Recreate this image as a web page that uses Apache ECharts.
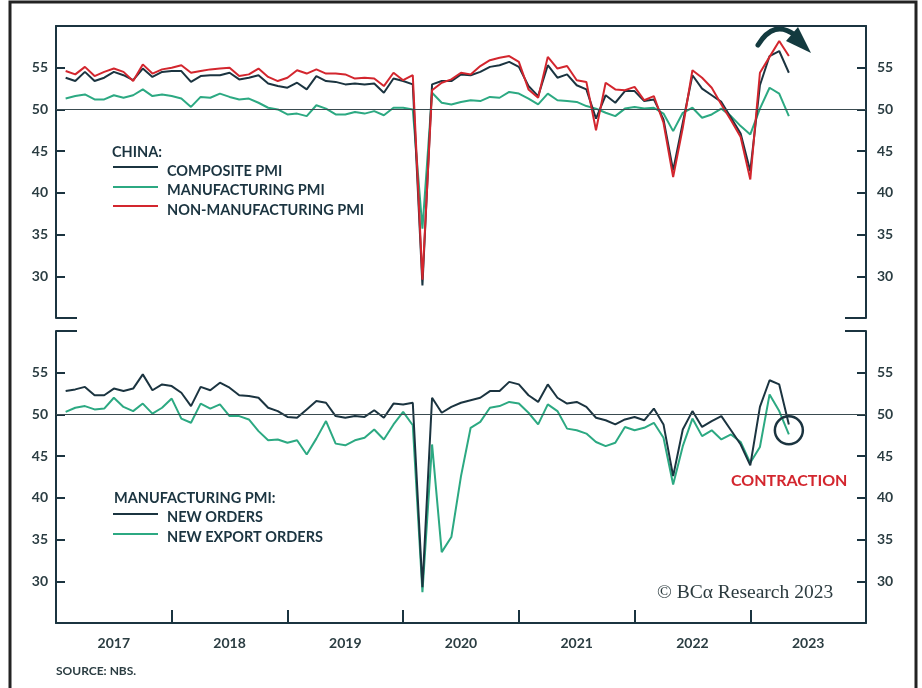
<!DOCTYPE html>
<html>
<head>
<meta charset="utf-8">
<script src="https://cdn.jsdelivr.net/npm/echarts@6/dist/echarts.min.js"></script>
<style>
  html, body { margin: 0; padding: 0; background: #ffffff; }
  #chart { width: 922px; height: 688px; }
</style>
</head>
<body>
<div id="chart"></div>
<script>
// Monthly series, January 2017 through April 2023 (NBS).
const yearLabels = ['2017', '2018', '2019', '2020', '2021', '2022', '2023'];

const compositePmi = [
  53.8, 53.4, 54.5, 53.4, 53.8, 54.5, 54.1, 53.5, 54.9, 53.9, 54.5, 54.6,
  54.6, 53.3, 54.0, 54.1, 54.1, 54.4, 53.6, 53.8, 54.1, 53.1, 52.8, 52.6,
  53.2, 52.4, 54.0, 53.4, 53.3, 53.0, 53.1, 53.0, 53.1, 52.0, 53.7, 53.4,
  53.0, 28.9, 53.0, 53.4, 53.4, 54.2, 54.1, 54.5, 55.1, 55.3, 55.7, 55.1,
  52.8, 51.6, 55.3, 53.8, 54.2, 52.9, 52.4, 48.9, 51.7, 50.8, 52.2, 52.2,
  51.0, 51.2, 48.8, 42.7, 48.4, 54.1, 52.5, 51.7, 50.9, 49.0, 47.1, 42.6,
  52.9, 56.4, 57.0, 54.4
];

const manufacturingPmi = [
  51.3, 51.6, 51.8, 51.2, 51.2, 51.7, 51.4, 51.7, 52.4, 51.6, 51.8, 51.6,
  51.3, 50.3, 51.5, 51.4, 51.9, 51.5, 51.2, 51.3, 50.8, 50.2, 50.0, 49.4,
  49.5, 49.2, 50.5, 50.1, 49.4, 49.4, 49.7, 49.5, 49.8, 49.3, 50.2, 50.2,
  50.0, 35.7, 52.0, 50.8, 50.6, 50.9, 51.1, 51.0, 51.5, 51.4, 52.1, 51.9,
  51.3, 50.6, 51.9, 51.1, 51.0, 50.9, 50.4, 50.1, 49.6, 49.2, 50.1, 50.3,
  50.1, 50.2, 49.5, 47.4, 49.6, 50.2, 49.0, 49.4, 50.1, 49.2, 48.0, 47.0,
  50.1, 52.6, 51.9, 49.2
];

const nonManufacturingPmi = [
  54.6, 54.2, 55.1, 54.0, 54.5, 54.9, 54.5, 53.4, 55.4, 54.3, 54.8, 55.0,
  55.3, 54.4, 54.6, 54.8, 54.9, 55.0, 54.0, 54.2, 54.9, 53.9, 53.4, 53.8,
  54.7, 54.3, 54.8, 54.3, 54.3, 54.2, 53.7, 53.8, 53.7, 52.8, 54.4, 53.5,
  54.1, 29.6, 52.3, 53.2, 53.6, 54.4, 54.2, 55.2, 55.9, 56.2, 56.4, 55.7,
  52.4, 51.4, 56.3, 54.9, 55.2, 53.5, 53.3, 47.5, 53.2, 52.4, 52.3, 52.7,
  51.1, 51.6, 48.4, 41.9, 47.8, 54.7, 53.8, 52.6, 50.6, 48.7, 46.7, 41.6,
  54.4, 56.3, 58.2, 56.4
];

const newOrders = [
  52.8, 53.0, 53.3, 52.3, 52.3, 53.1, 52.8, 53.1, 54.8, 52.9, 53.6, 53.4,
  52.6, 51.0, 53.3, 52.9, 53.8, 53.2, 52.3, 52.2, 52.0, 50.8, 50.4, 49.7,
  49.6, 50.6, 51.6, 51.4, 49.8, 49.6, 49.8, 49.7, 50.5, 49.6, 51.3, 51.2,
  51.4, 29.3, 52.0, 50.2, 50.9, 51.4, 51.7, 52.0, 52.8, 52.8, 53.9, 53.6,
  52.3, 51.5, 53.6, 52.0, 51.3, 51.5, 50.9, 49.6, 49.3, 48.8, 49.4, 49.7,
  49.3, 50.7, 48.8, 42.6, 48.2, 50.4, 48.5, 49.2, 49.8, 48.1, 46.4, 43.9,
  50.9, 54.1, 53.6, 48.8
];

const newExportOrders = [
  50.3, 50.8, 51.0, 50.6, 50.7, 52.0, 50.9, 50.4, 51.3, 50.1, 50.8, 51.9,
  49.5, 49.0, 51.3, 50.7, 51.2, 49.8, 49.8, 49.4, 48.0, 46.9, 47.0, 46.6,
  46.9, 45.2, 47.1, 49.2, 46.5, 46.3, 46.9, 47.2, 48.2, 47.0, 48.8, 50.3,
  48.7, 28.7, 46.4, 33.5, 35.3, 42.6, 48.4, 49.1, 50.8, 51.0, 51.5, 51.3,
  50.2, 48.8, 51.2, 50.4, 48.3, 48.1, 47.7, 46.7, 46.2, 46.6, 48.5, 48.1,
  48.4, 49.0, 47.2, 41.6, 46.2, 49.5, 47.4, 48.1, 47.0, 47.6, 46.7, 44.2,
  46.1, 52.4, 50.4, 47.6
];

// x is measured in months since 1 Jan 2017; each reading sits at its month end.
const toPoints = arr => arr.map((v, i) => [i + 1, v]);

const INK = '#1b3440';
const GREEN = '#2ca982';
const RED = '#d3262e';
const SANS = 'Lato, "Open Sans", sans-serif';

const GRID_L = 56, GRID_R = 866;
const TOP_Y = 26, TOP_H = 292;
const BOT_Y = 331, BOT_H = 292;

function yAxis(gridIndex, position) {
  return {
    type: 'value', gridIndex, position,
    min: 25, max: 60, interval: 5,
    axisLine: { show: true, onZero: false, lineStyle: { color: INK, width: 2 } },
    axisTick: { show: true, inside: true, length: 9, lineStyle: { color: INK, width: 2 } },
    axisLabel: {
      margin: position === 'left' ? 8 : 11,
      color: '#2b3d42', fontFamily: SANS, fontWeight: 'bold', fontSize: 14,
      formatter: v => (v > 25 && v < 60 ? String(v) : '')
    },
    splitLine: { show: false }
  };
}

const line50 = {
  silent: true, symbol: 'none',
  label: { show: false },
  lineStyle: { color: '#3a4b50', width: 1, type: 'solid' },
  data: [{ yAxis: 50 }]
};

function lineSeries(name, data, color, xi, yi, extra) {
  return Object.assign({
    name, type: 'line', data: toPoints(data),
    xAxisIndex: xi, yAxisIndex: yi,
    symbol: 'none', smooth: false,
    lineStyle: { color, width: 2 },
    itemStyle: { color },
    emphasis: { disabled: true }
  }, extra || {});
}

function label(text, x, y, font, fill) {
  return { type: 'text', x, y, silent: true,
    style: { text, font, fill, textVerticalAlign: 'middle', verticalAlign: 'middle' } };
}
function keyLine(x1, x2, y, stroke) {
  return { type: 'line', silent: true, shape: { x1, y1: y, x2, y2: y }, style: { stroke, lineWidth: 2 } };
}

const KEY_FONT = 'bold 14.5px ' + SANS;

const staticGraphics = [
  // outer frame
  { type: 'rect', silent: true, shape: { x: 10, y: 2, width: 906, height: 720 },
    style: { fill: 'none', stroke: '#232323', lineWidth: 3 } },
  // panel break stubs
  keyLine(GRID_L, GRID_L + 21, TOP_Y + TOP_H, INK),
  keyLine(GRID_R - 21, GRID_R, TOP_Y + TOP_H, INK),
  keyLine(GRID_L, GRID_L + 21, BOT_Y, INK),
  keyLine(GRID_R - 21, GRID_R, BOT_Y, INK),

  // top panel key
  label('CHINA:', 112, 152, KEY_FONT, INK),
  keyLine(113, 158, 167, INK),
  label('COMPOSITE PMI', 167, 171, KEY_FONT, INK),
  keyLine(113, 158, 187, GREEN),
  label('MANUFACTURING PMI', 167, 190.5, KEY_FONT, INK),
  keyLine(113, 158, 206, RED),
  label('NON-MANUFACTURING PMI', 167, 210, KEY_FONT, INK),

  // bottom panel key
  label('MANUFACTURING PMI:', 114, 498, KEY_FONT, INK),
  keyLine(113, 158, 514, INK),
  label('NEW ORDERS', 167, 517.5, KEY_FONT, INK),
  keyLine(113, 158, 534, GREEN),
  label('NEW EXPORT ORDERS', 167, 537.5, KEY_FONT, INK),

  label('CONTRACTION', 731, 481, 'bold 16px ' + SANS, RED),
  label('© BCα Research 2023', 657, 593, '19.5px "Liberation Serif", "DejaVu Serif", serif', '#2b3a3e'),
  label('SOURCE: NBS.', 56, 671, 'bold 12px ' + SANS, '#2b3d42'),

  // curved arrow over the latest readings
  { type: 'bezierCurve', silent: true,
    shape: { x1: 758, y1: 45, cpx1: 774, cpy1: 19, x2: 795, y2: 35 },
    style: { fill: 'none', stroke: '#133a3f', lineWidth: 5, lineCap: 'round' } },
  { type: 'polygon', silent: true, shape: { points: [[798, 27], [811, 53], [786, 41]] },
    style: { fill: '#133a3f' } }
];

const chart = echarts.init(document.getElementById('chart'), null, { renderer: 'canvas' });

chart.setOption({
  animation: false,
  backgroundColor: '#ffffff',
  grid: [
    { left: GRID_L, top: TOP_Y, width: GRID_R - GRID_L, height: TOP_H },
    { left: GRID_L, top: BOT_Y, width: GRID_R - GRID_L, height: BOT_H }
  ],
  xAxis: [
    {
      type: 'value', gridIndex: 0, min: 0, max: 84, position: 'top',
      axisLine: { show: true, onZero: false, lineStyle: { color: INK, width: 2 } },
      axisTick: { show: false }, axisLabel: { show: false }, splitLine: { show: false }
    },
    {
      type: 'value', gridIndex: 1, min: 0, max: 84, position: 'bottom',
      axisLine: { show: true, onZero: false, lineStyle: { color: INK, width: 2 } },
      axisTick: {
        show: true, inside: true, length: 13,
        customValues: [12, 24, 36, 48, 60, 72],
        lineStyle: { color: INK, width: 2 }
      },
      axisLabel: {
        customValues: yearLabels.map((_, i) => 6 + 12 * i),
        formatter: v => yearLabels[Math.round((v - 6) / 12)],
        margin: 13, color: '#2b3d42', fontFamily: SANS, fontWeight: 'bold', fontSize: 14
      },
      splitLine: { show: false }
    }
  ],
  yAxis: [yAxis(0, 'left'), yAxis(0, 'right'), yAxis(1, 'left'), yAxis(1, 'right')],
  series: [
    lineSeries('MANUFACTURING PMI', manufacturingPmi, GREEN, 0, 0, { markLine: line50 }),
    lineSeries('COMPOSITE PMI', compositePmi, INK, 0, 0),
    lineSeries('NON-MANUFACTURING PMI', nonManufacturingPmi, RED, 0, 0),
    lineSeries('NEW EXPORT ORDERS', newExportOrders, GREEN, 1, 2, { markLine: line50 }),
    lineSeries('NEW ORDERS', newOrders, INK, 1, 2)
  ],
  graphic: staticGraphics
});

// Ring around the latest new-orders readings, placed in data space.
const ringCenter = chart.convertToPixel({ xAxisIndex: 1, yAxisIndex: 2 }, [newOrders.length, 48.1]);
chart.setOption({
  graphic: staticGraphics.concat([{
    type: 'circle', silent: true, shape: { cx: ringCenter[0], cy: ringCenter[1], r: 14 },
    style: { fill: 'none', stroke: INK, lineWidth: 2.5 }, z: 10
  }])
});
</script>
</body>
</html>
